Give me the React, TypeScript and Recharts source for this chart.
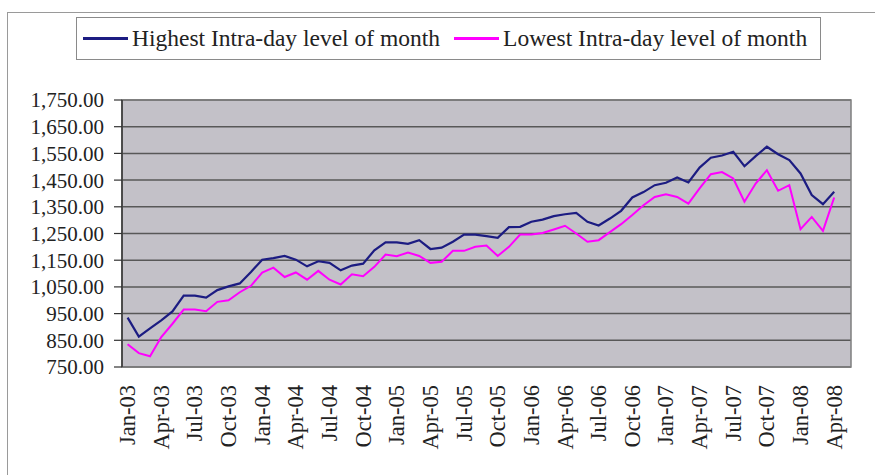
import React from 'react';
import { LineChart, Line, XAxis, YAxis, CartesianGrid, ReferenceArea } from 'recharts';

const months = [
  'Jan-03','Feb-03','Mar-03','Apr-03','May-03','Jun-03','Jul-03','Aug-03','Sep-03','Oct-03','Nov-03','Dec-03',
  'Jan-04','Feb-04','Mar-04','Apr-04','May-04','Jun-04','Jul-04','Aug-04','Sep-04','Oct-04','Nov-04','Dec-04',
  'Jan-05','Feb-05','Mar-05','Apr-05','May-05','Jun-05','Jul-05','Aug-05','Sep-05','Oct-05','Nov-05','Dec-05',
  'Jan-06','Feb-06','Mar-06','Apr-06','May-06','Jun-06','Jul-06','Aug-06','Sep-06','Oct-06','Nov-06','Dec-06',
  'Jan-07','Feb-07','Mar-07','Apr-07','May-07','Jun-07','Jul-07','Aug-07','Sep-07','Oct-07','Nov-07','Dec-07',
  'Jan-08','Feb-08','Mar-08','Apr-08',
];

const highest = [
  935, 864, 895, 925, 958, 1017, 1017, 1010, 1038, 1052, 1063, 1106,
  1152, 1158, 1166, 1152, 1127, 1146, 1140, 1112, 1130, 1137, 1187, 1217,
  1217, 1211, 1225, 1192, 1197, 1219, 1246, 1246, 1240, 1234, 1274, 1275,
  1294, 1302, 1315, 1322, 1327, 1294, 1280, 1306, 1335, 1385, 1405, 1431,
  1440, 1460, 1441, 1497, 1534, 1542, 1556, 1502, 1540, 1575, 1547, 1525,
  1475, 1394, 1360, 1406,
];

const lowest = [
  835, 802, 790, 862, 912, 965, 965, 959, 994, 1000, 1030, 1054,
  1104, 1122, 1087, 1104, 1077, 1110, 1077, 1059, 1097, 1090, 1125, 1171,
  1165, 1179, 1166, 1140, 1144, 1185, 1185, 1200, 1205, 1166, 1200, 1246,
  1246, 1252, 1265, 1279, 1250, 1219, 1225, 1255, 1285, 1319, 1356, 1387,
  1397, 1387, 1362, 1419, 1472, 1480, 1456, 1369, 1437, 1487, 1410, 1431,
  1266, 1312, 1260, 1385,
];

const xTickLabels = [
  'Jan-03','Apr-03','Jul-03','Oct-03','Jan-04','Apr-04','Jul-04','Oct-04',
  'Jan-05','Apr-05','Jul-05','Oct-05','Jan-06','Apr-06','Jul-06','Oct-06',
  'Jan-07','Apr-07','Jul-07','Oct-07','Jan-08','Apr-08',
];

const yTicks = [750, 850, 950, 1050, 1150, 1250, 1350, 1450, 1550, 1650, 1750];

const seriesNames = ['Highest Intra-day level of month', 'Lowest Intra-day level of month'];
const seriesColors = ['#1c1c82', '#ff00ff'];

// category slots: one per month plus one trailing empty slot (as in the original axis)
const slotCount = months.length + 1;

const data = months.map((m, i) => ({ month: m, pos: i + 0.5, high: highest[i], low: lowest[i] }));
const labelTicks = xTickLabels.map((l) => months.indexOf(l) + 0.5);
const boundaryTicks = xTickLabels.map((l) => months.indexOf(l));

const FONT = '"Liberation Serif", "Times New Roman", serif';

const fmtY = (v: number) =>
  v.toLocaleString('en-US', { minimumFractionDigits: 2, maximumFractionDigits: 2 });

const XLabel = (props: any) => {
  const { x, y, payload } = props;
  const label = months[Math.floor(payload.value)];
  return (
    <text
      x={x}
      y={y}
      transform={`rotate(-90, ${x}, ${y})`}
      textAnchor="end"
      dominantBaseline="central"
      fontSize={22.5}
      fontFamily={FONT}
      fill="#222"
    >
      {label}
    </text>
  );
};

const NoLabel = () => <g />;

export default function App() {
  return (
    <div
      style={{
        position: 'absolute',
        left: 0,
        top: 0,
        width: 875,
        height: 475,
        overflow: 'hidden',
        background: '#fff',
      }}
    >
      <div
        style={{
          position: 'absolute',
          left: 7,
          top: 12,
          right: 0,
          bottom: 0,
          borderLeft: '1px solid #9a9a9a',
          borderTop: '1px solid #9a9a9a',
        }}
      />
      <div style={{ position: 'absolute', left: 0, top: 0 }}>
        <LineChart
          width={875}
          height={475}
          data={data}
          margin={{ top: 100, right: 24, bottom: 0, left: 0 }}
        >
          <XAxis
            xAxisId="tk"
            dataKey="pos"
            type="number"
            domain={[0, slotCount]}
            ticks={boundaryTicks}
            interval={0}
            height={0}
            tickSize={7}
            tick={NoLabel}
            tickLine={{ stroke: '#333', strokeWidth: 1.2 }}
            axisLine={{ stroke: '#333', strokeWidth: 1.5 }}
            allowDataOverflow
          />
          <XAxis
            xAxisId="lab"
            dataKey="pos"
            type="number"
            domain={[0, slotCount]}
            ticks={labelTicks}
            interval={0}
            height={108}
            tickSize={0}
            tickMargin={18}
            tick={XLabel}
            tickLine={false}
            axisLine={false}
            allowDataOverflow
          />
          <YAxis
            domain={[750, 1750]}
            ticks={yTicks}
            interval={0}
            width={122}
            tickSize={8}
            tickMargin={10}
            tickFormatter={fmtY}
            tick={{ fontSize: 21, fontFamily: FONT, fill: '#222' }}
            tickLine={{ stroke: '#333', strokeWidth: 1.2 }}
            axisLine={{ stroke: '#333', strokeWidth: 1.5 }}
            allowDataOverflow
          />
          <CartesianGrid
            xAxisId="lab"
            vertical={false}
            fill="#c3c1c8"
            fillOpacity={1}
            stroke="#585858"
            strokeWidth={1.5}
          />
          <ReferenceArea
            xAxisId="lab"
            x1={0}
            x2={slotCount}
            y1={750}
            y2={1750}
            fill="none"
            stroke="#7f7f7f"
            strokeWidth={1.5}
          />
          <Line
            xAxisId="lab"
            type="linear"
            dataKey="high"
            name={seriesNames[0]}
            stroke={seriesColors[0]}
            strokeWidth={2.2}
            dot={false}
            isAnimationActive={false}
          />
          <Line
            xAxisId="lab"
            type="linear"
            dataKey="low"
            name={seriesNames[1]}
            stroke={seriesColors[1]}
            strokeWidth={2}
            dot={false}
            isAnimationActive={false}
          />
        </LineChart>
      </div>
      <div
        style={{
          position: 'absolute',
          left: 76,
          top: 17,
          width: 745,
          height: 43,
          border: '1px solid #8a8a8a',
          background: '#fff',
          boxSizing: 'border-box',
          display: 'flex',
          alignItems: 'center',
          fontFamily: FONT,
          fontSize: 23.5,
          color: '#222',
          whiteSpace: 'nowrap',
        }}
      >
        {seriesNames.map((n, i) => (
          <React.Fragment key={n}>
            <span
              style={{
                display: 'inline-block',
                width: 45,
                height: 2.5,
                background: seriesColors[i],
                marginLeft: i === 0 ? 6 : 14,
                marginRight: 4,
              }}
            />
            <span>{n}</span>
          </React.Fragment>
        ))}
      </div>
    </div>
  );
}
